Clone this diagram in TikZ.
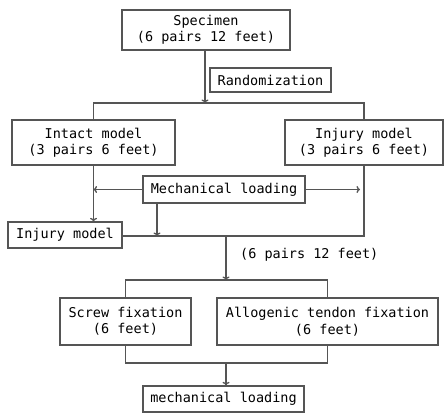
\documentclass[tikz,border=0pt]{standalone}
\usepackage{fontspec}
\setmonofont{DejaVu Sans Mono}
\usepackage{tikz}
\usetikzlibrary{arrows.meta, positioning, calc}

\definecolor{linegray}{RGB}{85,85,85}

\tikzset{
  box/.style={draw=linegray, line width=1.3pt, align=center, inner sep=0pt,
    font=\ttfamily\fontsize{13.5}{16.5}\selectfont},
  link/.style={draw=linegray, line width=1.3pt},
  arr/.style={link, -{To[length=3.5pt,width=7pt]}}
}

\begin{document}
\begin{tikzpicture}[x=1pt, y=-1pt]
  \useasboundingbox (0,0) rectangle (444,413);

  % boxes
  \node[box, minimum width=168pt, minimum height=40pt] (spec) at (206,30)
    {Specimen\\(6 pairs 12 feet)};
  \node[box, minimum width=121pt, minimum height=24pt] (rand) at (270.5,80)
    {Randomization};
  \node[box, minimum width=163pt, minimum height=45pt] (intact) at (93.5,142.5)
    {Intact model\\(3 pairs 6 feet)};
  \node[box, minimum width=158pt, minimum height=45pt] (injR) at (364,142.5)
    {Injury model\\(3 pairs 6 feet)};
  \node[box, minimum width=162pt, minimum height=27pt] (mech) at (224,189.5)
    {Mechanical loading};
  \node[box, minimum width=114pt, minimum height=26pt] (injL) at (65,235)
    {Injury model};
  \node[box, minimum width=131pt, minimum height=47pt] (screw) at (125.5,321.5)
    {Screw fixation\\(6 feet)};
  \node[box, minimum width=221pt, minimum height=47pt] (allo) at (327.5,321.5)
    {Allogenic tendon fixation\\(6 feet)};
  \node[box, minimum width=161pt, minimum height=26pt] (mload) at (223.5,399)
    {mechanical loading};

  % helper points
  \coordinate (split) at (205,103);
  \coordinate (join) at (226,236);
  \coordinate (fork) at (226,280);
  \coordinate (merge) at (226,363);
  \coordinate (mdrop) at (157,236);

  \node[anchor=west, inner sep=0pt, font=\ttfamily\fontsize{13.5}{16.5}\selectfont]
    (pairs) at (240,255) {(6 pairs 12 feet)};

  % connectors
  \draw[arr] (spec.south -| split) -- (split);
  \draw[link] (intact.north) |- (split) -| (injR.north);
  \draw[arr] (intact.south) -- (intact.south |- injL.north);
  \draw[arr] (mech.west) -- (intact.south |- mech.west);
  \draw[arr, shorten >=4pt] (mech.east) -- (injR.south |- mech.east);
  \draw[link] (injR.south) |- (injL.east |- join) -- (injL.east);
  \draw[arr] (mech.south -| mdrop) -- (mdrop);
  \draw[arr] (join) -- (fork);
  \draw[link] (screw.north) |- (fork) -| (allo.north);
  \draw[link] (screw.south) |- (merge) -| (allo.south);
  \draw[arr] (merge) -- (merge |- mload.north);
\end{tikzpicture}
\end{document}
